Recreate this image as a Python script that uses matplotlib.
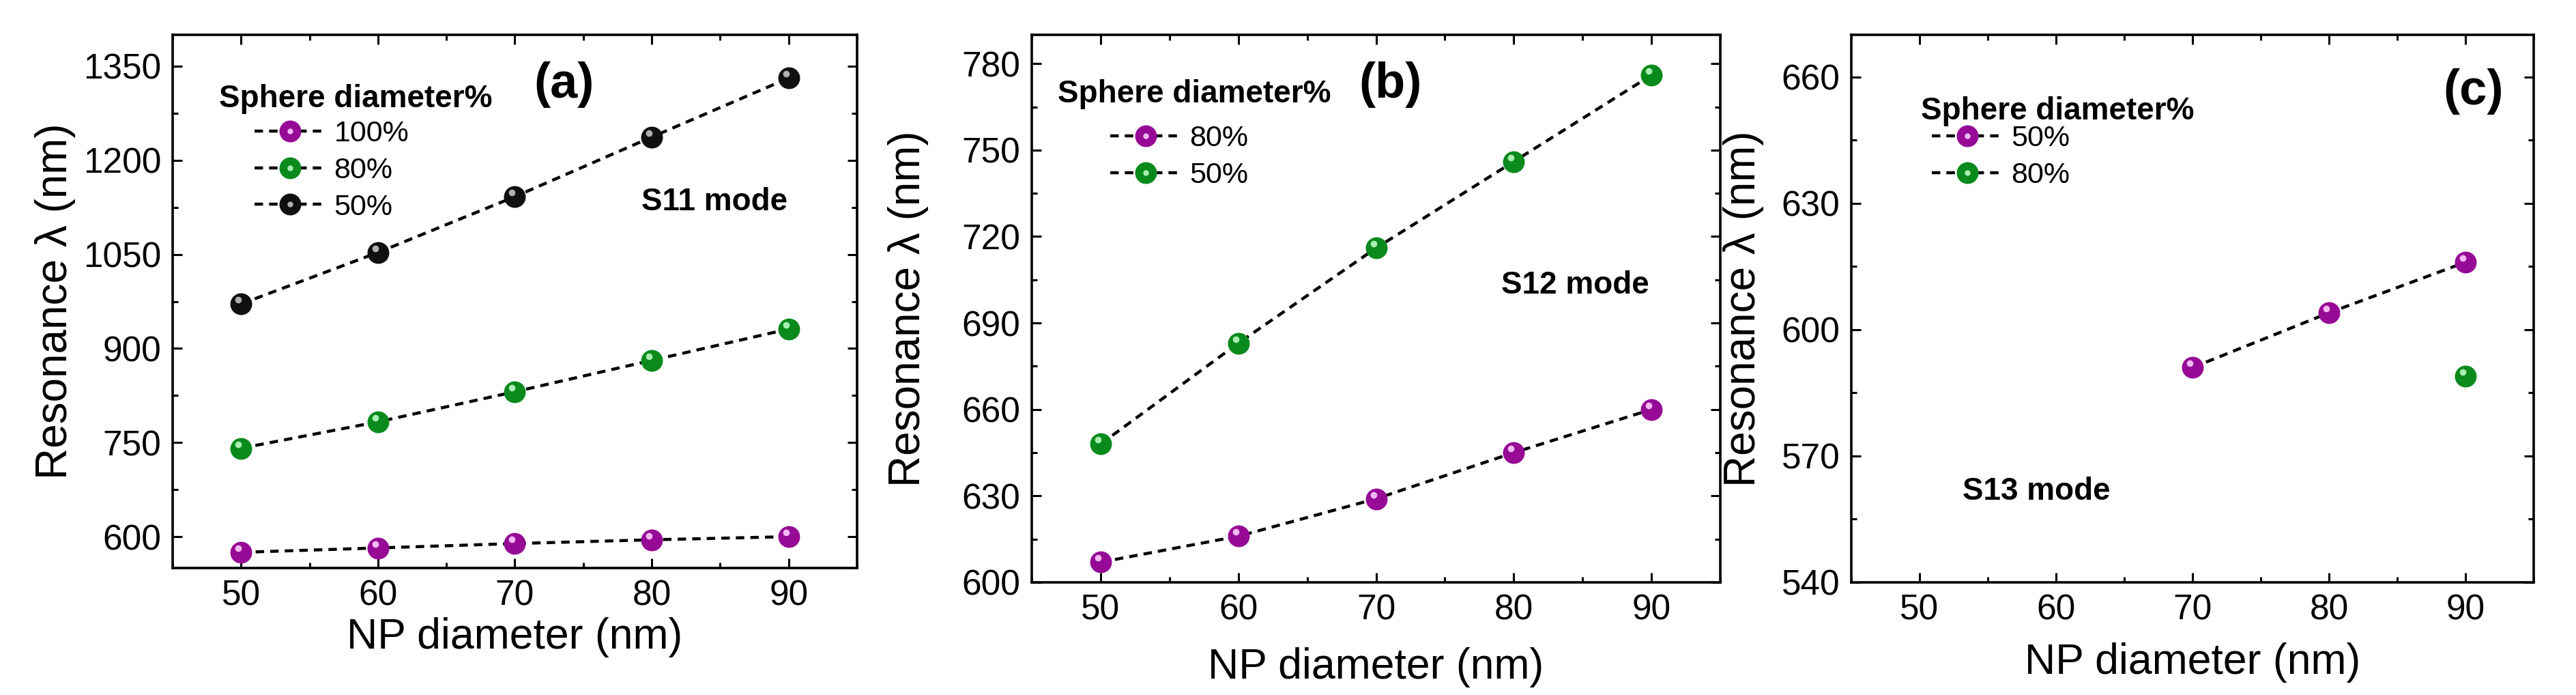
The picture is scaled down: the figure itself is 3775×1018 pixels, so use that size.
import matplotlib
matplotlib.use("Agg")
import matplotlib.pyplot as plt
from matplotlib.ticker import MultipleLocator
from matplotlib.transforms import offset_copy
from matplotlib.legend_handler import HandlerTuple

plt.rcParams['font.family'] = ['Liberation Sans', 'DejaVu Sans']

# Data
np_diam = [50, 60, 70, 80, 90]

# (a) S11 mode
a_100 = [575, 582, 589, 595, 600]
a_80 = [741, 783, 831, 881, 931]
a_50 = [971, 1053, 1142, 1237, 1331]

# (b) S12 mode
b_80 = [607, 616, 629, 645, 660]
b_50 = [648, 683, 716, 746, 776]

# (c) S13 mode
c_x50 = [70, 80, 90]
c_50 = [591, 604, 616]
c_x80 = [90]
c_80 = [589]

PURPLE = '#960a96'
GREEN = '#0a8a1c'
BLACK = '#101010'
HILITE = {PURPLE: '#f4b8f4', GREEN: '#a8eeb0', BLACK: '#b0b0b0'}

fig = plt.figure(figsize=(37.75, 10.18), dpi=100)

# axes boxes in figure fraction
ax_a = fig.add_axes([253/3775, 1-832/1018, 1003/3775, 781/1018])
ax_b = fig.add_axes([1512/3775, 1-853/1018, 1009/3775, 802/1018])
ax_c = fig.add_axes([2713/3775, 1-853/1018, 1000/3775, 802/1018])


def sphere(ax, x, y, color, label, connect=True):
    ls = (0, (2.8, 2.0)) if connect else 'none'
    ln, = ax.plot(x, y, linestyle=ls, color='black', lw=3.2,
                  marker='o', ms=23, mfc=color, mec=color, mew=0,
                  label=label, zorder=3)
    # small specular highlight, nudged up-left
    tr = offset_copy(ax.transData, fig=fig, x=-4, y=6, units='dots')
    ax.plot(x, y, linestyle='none', marker='o', ms=7,
            mfc=HILITE[color], mew=0, transform=tr, zorder=4)
    hl_leg, = ax.plot([], [], linestyle='none', marker='o', ms=6,
                      mfc=HILITE[color], mew=0)
    return (ln, hl_leg)


def style(ax, ylim, ymaj, ymin, ylab_x, xlab_y):
    ax.set_xlim(45, 95)
    ax.set_ylim(*ylim)
    ax.xaxis.set_major_locator(MultipleLocator(10))
    ax.xaxis.set_minor_locator(MultipleLocator(5))
    ax.yaxis.set_major_locator(MultipleLocator(ymaj))
    ax.yaxis.set_minor_locator(MultipleLocator(ymin))
    ax.tick_params(which='both', direction='in', top=True, right=True,
                   width=2.2, labelsize=37, pad=12)
    ax.tick_params(which='major', length=10)
    ax.tick_params(which='minor', length=6)
    for sp in ax.spines.values():
        sp.set_linewidth(2.6)
    ax.set_xlabel('NP diameter (nm)', fontsize=45)
    ax.set_ylabel('Resonance λ (nm)', fontsize=46)
    ax.yaxis.set_label_coords(ylab_x, 0.5)
    ax.xaxis.set_label_coords(0.5, xlab_y)


def legend(ax, handles, labels, x, y, title_x, title_y):
    ax.text(title_x, title_y, 'Sphere diameter%', transform=ax.transAxes,
            fontsize=33, fontweight='bold', ha='left', va='center')
    ax.legend(handles, labels, loc='upper left', bbox_to_anchor=(x, y),
              frameon=False, fontsize=31, handlelength=2.4,
              handletextpad=0.3, labelspacing=0.32, borderpad=0,
              borderaxespad=0, handler_map={tuple: HandlerTuple(ndivide=1)})


# ---- (a)
h1 = sphere(ax_a, np_diam, a_100, PURPLE, '100%')
h2 = sphere(ax_a, np_diam, a_80, GREEN, '80%')
h3 = sphere(ax_a, np_diam, a_50, BLACK, '50%')
style(ax_a, (550, 1400), 150, 75, -0.142, -0.092)
legend(ax_a, [h1, h2, h3], ['100%', '80%', '50%'], 0.12, 0.84, 0.068, 0.88)
ax_a.text(0.572, 0.907, '(a)', transform=ax_a.transAxes, fontsize=52,
          fontweight='bold', ha='center', va='center')
ax_a.text(0.792, 0.686, 'S11 mode', transform=ax_a.transAxes, fontsize=33,
          fontweight='bold', ha='center', va='center')

# ---- (b)
h1 = sphere(ax_b, np_diam, b_80, PURPLE, '80%')
h2 = sphere(ax_b, np_diam, b_50, GREEN, '50%')
style(ax_b, (600, 790), 30, 15, -0.15, -0.118)
legend(ax_b, [h1, h2], ['80%', '50%'], 0.114, 0.835, 0.038, 0.891)
ax_b.text(0.521, 0.909, '(b)', transform=ax_b.transAxes, fontsize=52,
          fontweight='bold', ha='center', va='center')
ax_b.text(0.789, 0.542, 'S12 mode', transform=ax_b.transAxes, fontsize=33,
          fontweight='bold', ha='center', va='center')

# ---- (c)
h1 = sphere(ax_c, c_x50, c_50, PURPLE, '50%')
h2 = sphere(ax_c, c_x80, c_80, GREEN, '80%')
style(ax_c, (540, 670), 30, 15, -0.128, -0.11)
legend(ax_c, [h1, h2], ['50%', '80%'], 0.118, 0.835, 0.102, 0.86)
ax_c.text(0.912, 0.897, '(c)', transform=ax_c.transAxes, fontsize=52,
          fontweight='bold', ha='center', va='center')
ax_c.text(0.271, 0.166, 'S13 mode', transform=ax_c.transAxes, fontsize=33,
          fontweight='bold', ha='center', va='center')

fig.savefig('out.png', dpi=100)
